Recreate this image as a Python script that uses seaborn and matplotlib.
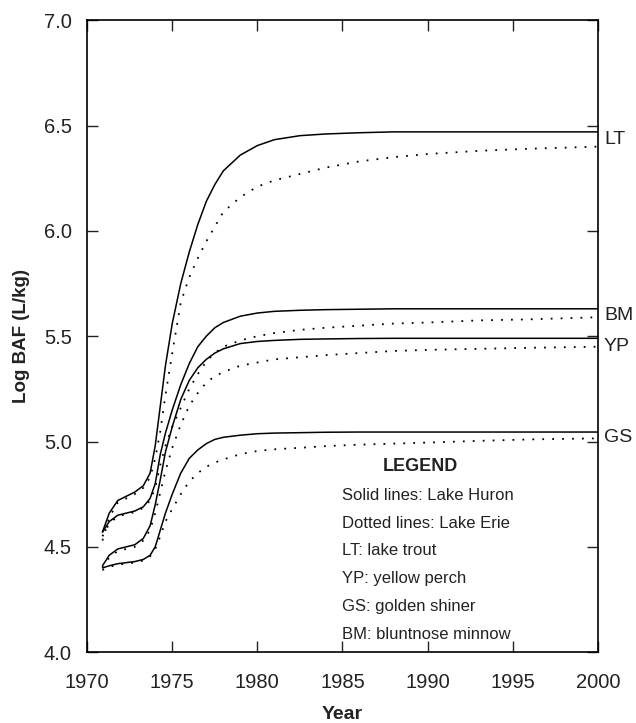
import numpy as np
import pandas as pd
import matplotlib
matplotlib.use("Agg")
import matplotlib.pyplot as plt
import seaborn as sns

# ---------------------------------------------------
# Daten
# ---------------------------------------------------
years = [1970.9, 1971.3, 1971.8, 1972.3, 1972.8, 1973.3, 1973.7, 1974.0,
         1974.3, 1974.6, 1975.0, 1975.5, 1976.0, 1976.5, 1977.0, 1977.5,
         1978.0, 1979.0, 1980.0, 1981.0, 1982.5, 1984.0, 1986.0, 1988.0,
         1990.0, 1993.0, 1996.0, 2000.0]

# Lake Huron (solid)
lt_huron = [4.57, 4.66, 4.72, 4.74, 4.76, 4.79, 4.85, 4.98,
            5.17, 5.36, 5.56, 5.75, 5.90, 6.03, 6.14, 6.22,
            6.285, 6.36, 6.405, 6.433, 6.452, 6.46, 6.466, 6.47,
            6.47, 6.47, 6.47, 6.47]
bm_huron = [4.57, 4.62, 4.65, 4.66, 4.67, 4.69, 4.73, 4.80,
            4.94, 5.04, 5.15, 5.27, 5.37, 5.45, 5.50, 5.54,
            5.565, 5.595, 5.61, 5.618, 5.623, 5.626, 5.628, 5.63,
            5.63, 5.63, 5.63, 5.63]
yp_huron = [4.41, 4.46, 4.49, 4.50, 4.51, 4.54, 4.60, 4.70,
            4.82, 4.95, 5.07, 5.20, 5.29, 5.35, 5.39, 5.42,
            5.44, 5.465, 5.475, 5.48, 5.485, 5.487, 5.489, 5.49,
            5.49, 5.49, 5.49, 5.49]
gs_huron = [4.40, 4.41, 4.42, 4.425, 4.43, 4.44, 4.46, 4.50,
            4.58, 4.66, 4.75, 4.85, 4.92, 4.96, 4.99, 5.01,
            5.02, 5.03, 5.037, 5.04, 5.042, 5.044, 5.045, 5.045,
            5.045, 5.045, 5.045, 5.045]

# Lake Erie (dotted)
lt_erie = [4.53, 4.64, 4.71, 4.73, 4.75, 4.78, 4.83, 4.92,
           5.05, 5.22, 5.42, 5.66, 5.78, 5.87, 5.95, 6.02,
           6.09, 6.16, 6.21, 6.24, 6.27, 6.30, 6.33, 6.35,
           6.365, 6.38, 6.39, 6.40]
bm_erie = [4.55, 4.61, 4.645, 4.655, 4.665, 4.685, 4.72, 4.78,
           4.89, 4.98, 5.07, 5.16, 5.25, 5.32, 5.38, 5.42,
           5.45, 5.48, 5.50, 5.515, 5.53, 5.54, 5.55, 5.56,
           5.565, 5.575, 5.58, 5.59]
yp_erie = [4.40, 4.45, 4.48, 4.49, 4.50, 4.53, 4.58, 4.66,
           4.76, 4.86, 4.97, 5.08, 5.17, 5.23, 5.28, 5.31,
           5.33, 5.36, 5.375, 5.39, 5.40, 5.41, 5.42, 5.43,
           5.435, 5.44, 5.445, 5.45]
gs_erie = [4.39, 4.405, 4.415, 4.42, 4.425, 4.435, 4.455, 4.49,
           4.55, 4.62, 4.68, 4.75, 4.81, 4.85, 4.88, 4.90,
           4.915, 4.94, 4.955, 4.963, 4.97, 4.978, 4.985, 4.99,
           4.995, 5.003, 5.01, 5.015]

species = ["LT", "BM", "YP", "GS"]
label_y = [6.435, 5.60, 5.45, 5.02]

legend_lines = ["Solid lines: Lake Huron",
                "Dotted lines: Lake Erie",
                "LT: lake trout",
                "YP: yellow perch",
                "GS: golden shiner",
                "BM: bluntnose minnow"]

# ---------------------------------------------------
# Plot
# ---------------------------------------------------
sns.set_style("ticks")
plt.rcParams["font.family"] = ["Liberation Sans", "DejaVu Sans"]

fig = plt.figure(figsize=(6.36, 7.23), dpi=100)
ax = fig.add_axes([0.137, 0.098, 0.803, 0.874])

huron = [lt_huron, bm_huron, yp_huron, gs_huron]
erie = [lt_erie, bm_erie, yp_erie, gs_erie]

for vals in huron:
    sns.lineplot(x=years, y=vals, ax=ax, color="black", linewidth=1.1,
                 estimator=None, sort=False)
for vals in erie:
    sns.lineplot(x=years, y=vals, ax=ax, color="black", linewidth=1.3,
                 linestyle=(0, (1, 4.5)), estimator=None, sort=False)

ax.set_xlim(1970, 2000)
ax.set_ylim(4.0, 7.0)
ax.set_xticks(np.arange(1970, 2001, 5))
ax.set_yticks(np.arange(4.0, 7.01, 0.5))
ax.set_yticklabels([f"{v:.1f}" for v in np.arange(4.0, 7.01, 0.5)])
ax.tick_params(direction="in", length=8, width=1, labelsize=14.5,
               top=True, right=True, colors="#222222")
ax.tick_params(axis="x", pad=15)
ax.tick_params(axis="y", pad=11)
for s in ax.spines.values():
    s.set_linewidth(1.2)
    s.set_color("black")

ax.set_xlabel("Year", fontsize=14, fontweight="bold", labelpad=10, color="#222222")
ax.set_ylabel("Log BAF (L/kg)", fontsize=13.5, fontweight="bold", labelpad=10,
              color="#222222")

# Kürzel rechts neben der Achse
trans = matplotlib.transforms.blended_transform_factory(ax.transAxes, ax.transData)
for name, yv in zip(species, label_y):
    ax.text(1.012, yv, name, transform=trans, fontsize=14, color="#222222",
            va="center", ha="left", clip_on=False)

# Legende als Text
ax.text(0.652, 0.294, "LEGEND", transform=ax.transAxes, fontsize=13,
        fontweight="bold", ha="center", va="center", color="#222222")
for i, line in enumerate(legend_lines):
    ax.text(0.5, 0.248 - i * 0.0439, line, transform=ax.transAxes,
            fontsize=12, ha="left", va="center", color="#222222")

fig.savefig("out.png", dpi=100)
